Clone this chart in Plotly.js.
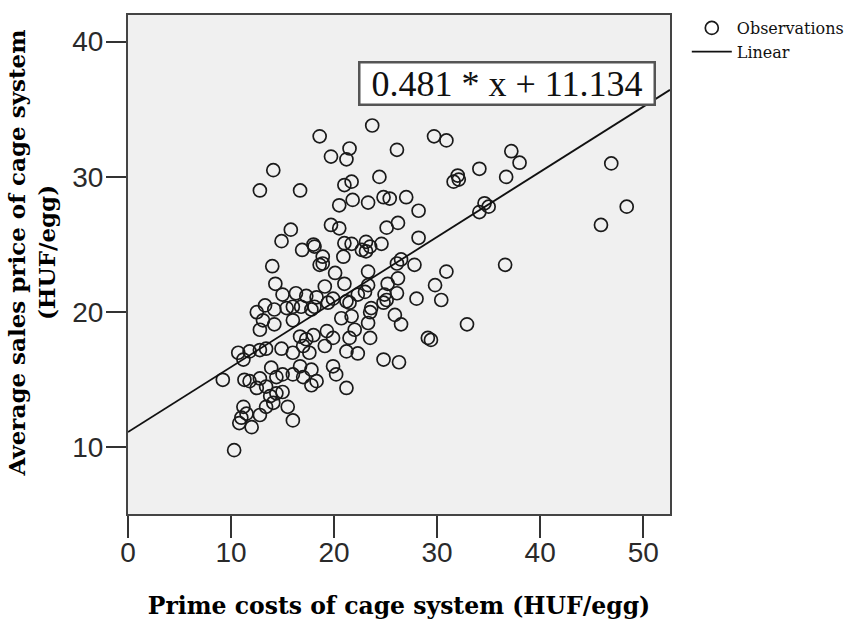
<!DOCTYPE html>
<html>
<head>
<meta charset="utf-8">
<script src="https://cdn.plot.ly/plotly-3.0.1.min.js"></script>
<style>html,body{margin:0;padding:0;background:#fff;}#chart{width:859px;height:622px;}</style>
</head>
<body>
<div id="chart"></div>
<script>
// Observations: prime costs (x) vs average sales price (y), HUF/egg
const primeCost = [
  18.6,14.1,12.8,16.7,15.8,14.9,16.9,18.0,18.1,18.6,14.0,14.3,
  15.0,16.3,17.3,13.3,12.5,14.2,15.4,16.0,16.8,17.8,13.1,14.2,16.0,12.8,16.7,17.3,18.0,
  10.7,11.8,12.8,13.4,11.2,14.9,16.0,17.0,17.6,9.2,13.9,11.3,11.8,12.8,12.5,13.4,14.4,
  15.0,16.0,17.0,17.8,18.3,13.8,14.4,15.0,14.1,15.5,11.2,11.5,11.0,12.0,10.8,13.4,12.8,16.0,10.3,
  23.7,29.7,30.9,21.5,26.1,19.7,21.2,34.1,32.0,31.6,32.1,24.4,21.0,21.7,20.5,21.8,23.3,24.8,25.4,
  27.0,28.2,19.7,20.5,25.1,26.2,28.2,18.9,18.9,21.0,21.7,23.1,23.5,22.7,23.1,24.6,20.9,26.1,26.5,
  27.8,30.9,34.6,34.1,35.0,20.1,23.3,
  37.2,38.0,36.7,46.9,48.4,45.9,36.6,
  21.0,23.3,25.2,26.2,29.8,19.1,18.3,19.9,21.2,22.3,23.0,24.9,26.1,28.0,30.4,18.1,19.4,21.5,23.6,25.1,
  20.7,21.7,23.5,23.3,24.8,25.9,26.5,32.9,29.1,29.4,22.0,21.5,23.5,19.3,19.9,19.1,21.2,22.3,24.8,26.3,
  16.7,17.8,19.9,20.2,21.2
];
const salesPrice = [
  33.0,30.5,29.0,29.0,26.1,25.25,24.6,25.0,24.85,23.5,23.4,22.1,
  21.3,21.4,21.2,20.5,20.0,20.2,20.3,20.4,20.4,20.2,19.4,19.1,19.4,18.7,18.2,18.0,18.3,
  17.0,17.1,17.2,17.3,16.5,17.3,17.0,17.5,17.0,15.0,15.9,15.0,14.9,15.1,14.4,14.5,15.2,
  15.4,15.4,15.2,14.6,14.9,13.8,14.0,14.1,13.3,13.0,13.0,12.5,12.2,11.5,11.8,13.0,12.4,12.0,9.8,
  33.8,33.0,32.7,32.1,32.0,31.5,31.3,30.6,30.1,29.65,29.8,30.0,29.4,29.65,27.9,28.3,28.1,28.5,28.4,
  28.5,27.5,26.45,26.2,26.25,26.6,25.5,24.1,23.6,25.1,25.05,25.2,24.85,24.6,24.5,25.05,24.1,23.6,23.9,
  23.5,23.0,28.05,27.4,27.8,22.9,23.0,
  31.9,31.05,30.0,31.0,27.8,26.45,23.5,
  22.1,22.0,22.1,22.5,22.0,21.9,21.1,21.0,20.8,21.3,21.5,21.3,21.4,21.0,20.9,20.4,20.7,20.7,20.3,20.9,
  19.55,19.7,20.0,19.2,20.7,19.8,19.1,19.1,18.1,17.95,18.7,18.1,18.1,18.6,18.1,17.5,17.1,16.95,16.5,16.3,
  16.0,15.75,16.0,15.4,14.4
];
// Fitted linear model shown in the chart
const slope = 0.481;
const intercept = 11.134;
const lineX = [0, 52.6];
const lineY = lineX.map(v => slope * v + intercept);
const xTicks = [0, 10, 20, 30, 40, 50];
const yTicks = [10, 20, 30, 40];
const equationText = '0.481 * x + 11.134';
const xTitle = 'Prime costs of cage system (HUF/egg)';
const yTitle = '&nbsp;&nbsp;&nbsp;Average sales price of cage system<br>&nbsp;&nbsp;&nbsp;(HUF/egg)';

const serif = 'DejaVu Serif, Liberation Serif, serif';
const traces = [
  {
    x: primeCost, y: salesPrice, type: 'scatter', mode: 'markers', name: 'Observations',
    marker: {symbol: 'circle-open', size: 13, color: '#1a1a1a', line: {width: 1.7, color: '#1a1a1a'}}
  },
  {
    x: lineX, y: lineY, type: 'scatter', mode: 'lines', name: 'Linear',
    line: {color: '#111', width: 1.8}
  }
];
const layout = {
  width: 859, height: 622,
  margin: {l: 128, r: 189, t: 15, b: 108, pad: 0, autoexpand: false},
  paper_bgcolor: '#ffffff', plot_bgcolor: '#f0f0f0',
  showlegend: true,
  legend: {x: 1.031, y: 1.008, xanchor: 'left', yanchor: 'top', font: {family: serif, size: 16, color: '#111'}, bgcolor: 'rgba(0,0,0,0)', itemwidth: 40},
  xaxis: {
    range: [0, 52.6], tickvals: xTicks, ticktext: xTicks.map(String),
    ticks: 'outside', ticklen: 22, tickwidth: 2, tickcolor: '#333',
    showline: true, mirror: true, linecolor: '#444', linewidth: 2,
    showgrid: false, zeroline: false, automargin: false, ticklabelstandoff: -10,
    tickfont: {family: 'Liberation Sans, Arial, sans-serif', size: 28, color: '#2a2a2a'},
    title: {text: xTitle, font: {family: serif, size: 23.5, color: '#000', weight: 'bold'}, standoff: 31}
  },
  yaxis: {
    range: [5.08, 41.97], tickvals: yTicks, ticktext: yTicks.map(String),
    ticks: 'outside', ticklen: 20, tickwidth: 2, tickcolor: '#333',
    showline: true, mirror: true, linecolor: '#444', linewidth: 2,
    showgrid: false, zeroline: false, automargin: false, ticklabelstandoff: -3,
    tickfont: {family: 'Liberation Sans, Arial, sans-serif', size: 28, color: '#2a2a2a'},
    title: {text: yTitle, font: {family: serif, size: 23, color: '#000', weight: 'bold'}, standoff: 10}
  },
  annotations: [{
    xref: 'paper', yref: 'paper', x: 0.700, y: 0.862, xanchor: 'center', yanchor: 'middle',
    text: equationText, showarrow: false,
    font: {family: 'Liberation Serif, Times New Roman, serif', size: 36, color: '#111'},
    bgcolor: '#ffffff', bordercolor: '#555', borderwidth: 2.5, borderpad: 2,
    width: 289, height: 36
  }]
};
Plotly.newPlot('chart', traces, layout, {staticPlot: true, displayModeBar: false});
</script>
</body>
</html>
